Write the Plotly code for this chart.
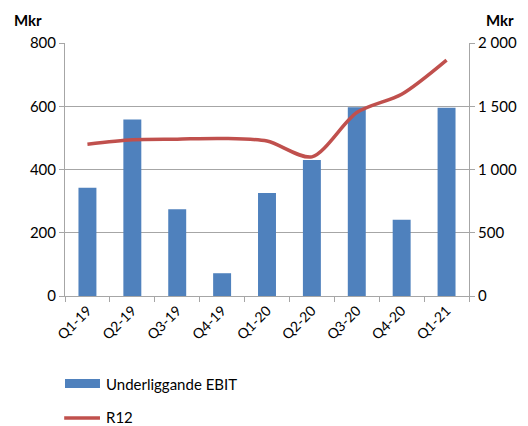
import plotly.graph_objects as go

categories = ["Q1-19", "Q2-19", "Q3-19", "Q4-19", "Q1-20", "Q2-20", "Q3-20", "Q4-20", "Q1-21"]
ebit = [342, 558, 274, 72, 326, 430, 597, 241, 595]
r12 = [1200, 1235, 1240, 1245, 1225, 1100, 1450, 1595, 1865]

left_ticks = [0, 200, 400, 600, 800]
right_ticks = [0, 500, 1000, 1500, 2000]
right_labels = ["0", "500", "1 000", "1 500", "2 000"]

FONT = "Lato, Carlito, Liberation Sans, sans-serif"
GRID = "#a6a6a6"
BAR_COLOR = "#4F81BD"
LINE_COLOR = "#C0504D"

fig = go.Figure()
fig.add_trace(go.Bar(
    x=categories, y=ebit, name="Underliggande EBIT",
    marker=dict(color=BAR_COLOR, line=dict(width=0)), yaxis="y"))
fig.add_trace(go.Scatter(
    x=categories, y=r12, name="R12", mode="lines",
    line=dict(color=LINE_COLOR, width=3.5, shape="spline", smoothing=0.8),
    yaxis="y2"))

# custom legend (wide swatches like the original)
fig.add_shape(type="rect", xref="paper", yref="paper", x0=0, x1=0.0866,
              y0=-0.364, y1=-0.328, fillcolor=BAR_COLOR, line=dict(width=0))
fig.add_shape(type="line", xref="paper", yref="paper", x0=-0.002, x1=0.0866,
              y0=-0.482, y1=-0.482, line=dict(color=LINE_COLOR, width=3.5))

fig.update_layout(
    width=520, height=418,
    margin=dict(l=57, r=59, t=35, b=130),
    paper_bgcolor="white", plot_bgcolor="white",
    font=dict(family=FONT, size=15, color="black"),
    bargap=0.6,
    showlegend=False,
    xaxis=dict(type="category", showgrid=False, showline=True, linecolor=GRID,
               ticks="outside", tickson="boundaries", ticklen=5, tickcolor=GRID,
               tickangle=-45, tickfont=dict(size=14), automargin=False),
    yaxis=dict(range=[0, 800], tickvals=left_ticks, showgrid=True, gridcolor=GRID,
               showline=True, linecolor=GRID, ticks="outside", ticklen=5,
               tickcolor=GRID, zeroline=False, tickfont=dict(size=15),
               automargin=False),
    yaxis2=dict(range=[0, 2000], tickvals=right_ticks, ticktext=right_labels,
                overlaying="y", side="right", showgrid=False, showline=True,
                linecolor=GRID, ticks="outside", ticklen=5, tickcolor=GRID,
                zeroline=False, tickfont=dict(size=15), automargin=False),
    annotations=[
        dict(text="<b>Mkr</b>", xref="paper", yref="paper", x=-0.131, y=1.09,
             xanchor="left", yanchor="middle", showarrow=False, font=dict(size=15)),
        dict(text="<b>Mkr</b>", xref="paper", yref="paper", x=1.037, y=1.09,
             xanchor="left", yanchor="middle", showarrow=False, font=dict(size=15)),
        dict(text="Underliggande EBIT", xref="paper", yref="paper", x=0.0965, y=-0.346,
             xanchor="left", yanchor="middle", showarrow=False, font=dict(size=15)),
        dict(text="R12", xref="paper", yref="paper", x=0.0965, y=-0.478,
             xanchor="left", yanchor="middle", showarrow=False, font=dict(size=15)),
    ],
)
fig.write_html("out.html")
